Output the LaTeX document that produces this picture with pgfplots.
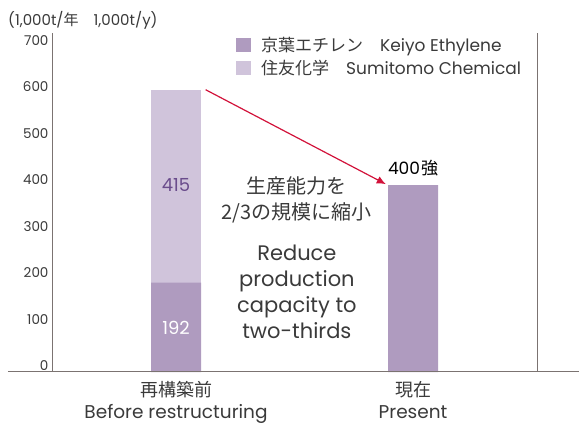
\documentclass[border=0pt]{standalone}
\usepackage{fontspec}
\setmainfont{Poppins}
\newfontfamily\jp{Noto Sans CJK JP}
\usepackage{pgfplots}
\pgfplotsset{compat=1.18}
\usetikzlibrary{arrows.meta}
\definecolor{darkbar}{HTML}{AF9BBF}
\definecolor{lightbar}{HTML}{D0C4DB}
\definecolor{txt}{HTML}{3A3A3A}
\definecolor{axl}{HTML}{7B7371}
\definecolor{purptxt}{HTML}{6A4C8C}
\definecolor{arrowred}{HTML}{D2123A}
\begin{document}
\begin{tikzpicture}
\path[use as bounding box] (-53pt,-54pt) rectangle (526pt,372pt);
\begin{axis}[
  at={(0pt,0pt)}, anchor=south west,
  scale only axis, width=484pt, height=339pt,
  xmin=-0.519, xmax=1.523, ymin=0, ymax=729,
  ybar stacked, bar width=50pt,
  clip=false,
  axis line style={draw=none},
  major tick length=0pt,
  ytick={0,100,...,700},
  xtick={0,1},
  xticklabels={{{\jp\fontsize{18}{22}\selectfont 再構築前}\\Before restructuring},{{\jp\fontsize{18}{22}\selectfont 現在}\\Present}},
  xticklabel style={align=center, font=\fontsize{18.5}{22}\selectfont, text=txt, yshift=-6pt},
  yticklabel style={font=\fontsize{13.5}{16}\selectfont, text=txt, yshift=6pt, xshift=-1pt},
  /pgf/number format/assume math mode=true,
  /pgf/number format/1000 sep={},
  legend style={draw=none, fill=none, at={(rel axis cs:0.372,1.0)}, anchor=north west,
    font=\fontsize{17}{18}\selectfont, text=txt, row sep=3pt,
    legend cell align=left},
  legend image code/.code={\fill[#1, draw=none] (0pt,-7pt) rectangle (15pt,7pt);},
]
\addplot[fill=darkbar, draw=none] coordinates {(0,192) (1,402)};
\addlegendentry{\hspace{8pt}{\jp 京葉エチレン}\hspace{1em}Keiyo Ethylene}
\addplot[fill=lightbar, draw=none] coordinates {(0,415) (1,0)};
\addlegendentry{\hspace{8pt}{\jp 住友化学}\hspace{1em}Sumitomo Chemical}

\coordinate (L0) at (rel axis cs:0,0);
\coordinate (L1) at (rel axis cs:0,1);
\coordinate (R0) at (rel axis cs:1,0);
\coordinate (R1) at (rel axis cs:1,1);
\coordinate (n192) at (axis cs:0,95);
\coordinate (n415) at (axis cs:0,402);
\coordinate (n400) at (axis cs:1,439);
\coordinate (a0) at (axis cs:0.125,607);
\coordinate (a1) at (axis cs:0.885,404);
\coordinate (tjp) at (axis cs:0.51,370);
\coordinate (ten) at (axis cs:0.51,172);
\end{axis}
\draw[axl, line width=1pt] (L0) -- (L1);
\draw[axl, line width=1pt] (R0) -- (R1);
\draw[axl, line width=1pt] ([xshift=-45pt]L0) -- ([xshift=45pt]R0);

\node[text=white, font=\fontsize{18}{20}\selectfont] at (n192) {192};
\node[text=purptxt, font=\fontsize{18}{20}\selectfont] at (n415) {415};
\node[text=black, font=\fontsize{17}{20}\selectfont] at (n400) {400\hspace{1pt}{\jp 強}};

\draw[arrowred, line width=1.2pt, -{Latex[length=9pt,width=8pt]}] (a0) -- (a1);

\node[text=txt, align=center, font=\fontsize{20}{26}\selectfont\jp] at (tjp) {生産能力を\\2/3の規模に縮小};
\node[text=txt, align=center, font=\fontsize{21}{26}\selectfont] at (ten) {Reduce\\production\\capacity to\\two-thirds};

\node[text=txt, anchor=west, font=\fontsize{15}{16}\selectfont, inner sep=0pt] at ([xshift=-45pt, yshift=13pt]L1) {(1,000t/{\jp 年}\hspace{1em}1,000t/y)};
\end{tikzpicture}
\end{document}
